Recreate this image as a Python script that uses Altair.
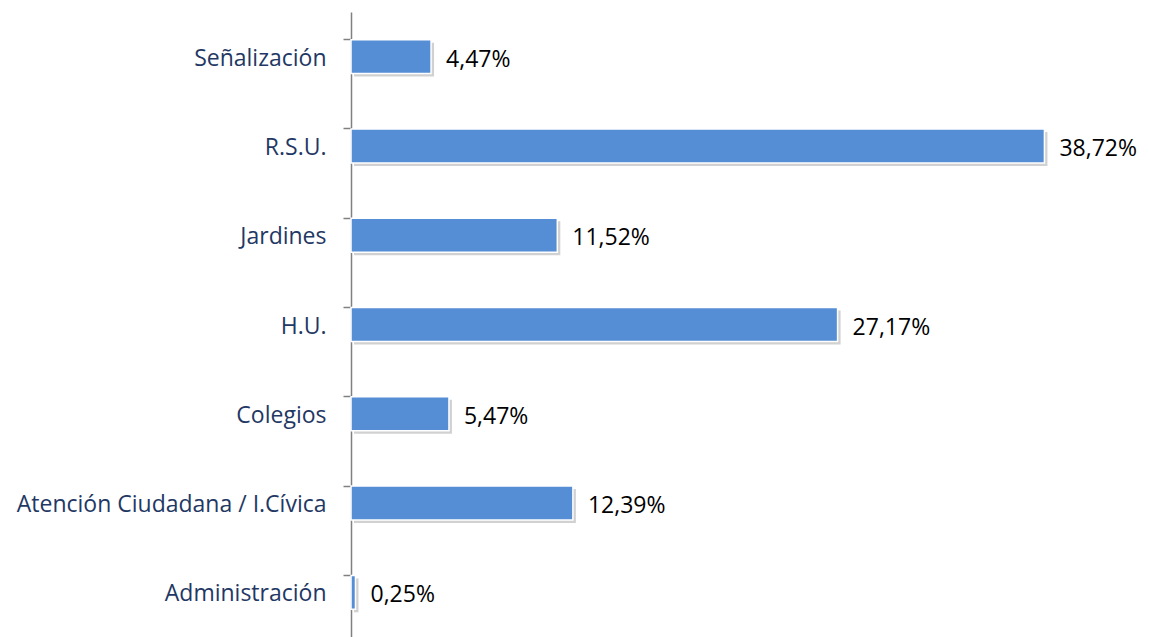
import altair as alt
import pandas as pd

categories = ["Señalización", "R.S.U.", "Jardines", "H.U.", "Colegios",
              "Atención Ciudadana / I.Cívica", "Administración"]
values = [4.47, 38.72, 11.52, 27.17, 5.47, 12.39, 0.25]
labels = ["4,47%", "38,72%", "11,52%", "27,17%", "5,47%", "12,39%", "0,25%"]

df = pd.DataFrame({"cat": categories, "val": values, "lab": labels})

FONT = "Open Sans"
yscale = alt.Scale(paddingInner=0.62, paddingOuter=0.31)
xscale = alt.Scale(domain=[0, 44], nice=False)

shadow = alt.Chart(df).mark_bar(color="#000000", opacity=0.18, yOffset=3, xOffset=3).encode(
    x=alt.X("val:Q", scale=xscale, axis=None),
    y=alt.Y("cat:N", sort=categories, scale=yscale,
            axis=alt.Axis(title=None, ticks=False, domain=False, labelFont=FONT,
                          labelFontSize=23, labelColor="#1F3864", labelPadding=25,
                          labelOffset=2, labelLimit=400, orient="left")),
)

bars = alt.Chart(df).mark_bar(color="#558ED5", stroke="white", strokeWidth=1.5).encode(
    x=alt.X("val:Q", scale=xscale, axis=None),
    y=alt.Y("cat:N", sort=categories, scale=yscale, axis=None),
)

text = alt.Chart(df).mark_text(align="left", baseline="middle", dx=15, dy=3, font=FONT,
                               fontSize=23, color="#000000").encode(
    x=alt.X("val:Q", scale=xscale, axis=None),
    y=alt.Y("cat:N", sort=categories, scale=yscale,
            axis=alt.Axis(title=None, labels=False, ticks=True, tickSize=8,
                          tickColor="#808080", tickWidth=1.5, domain=True,
                          domainColor="#808080", domainWidth=1.5, bandPosition=0,
                          orient="left")),
    text="lab:N",
)

chart = alt.layer(shadow, bars, text).resolve_axis(y="independent").properties(
    width=788, height=625,
    autosize=alt.AutoSizeParams(type="none"),
    padding={"left": 343, "top": 4, "right": 3, "bottom": 0},
).configure_view(stroke=None)

chart.save("out.html", embed_options={"renderer": "svg", "actions": False})
